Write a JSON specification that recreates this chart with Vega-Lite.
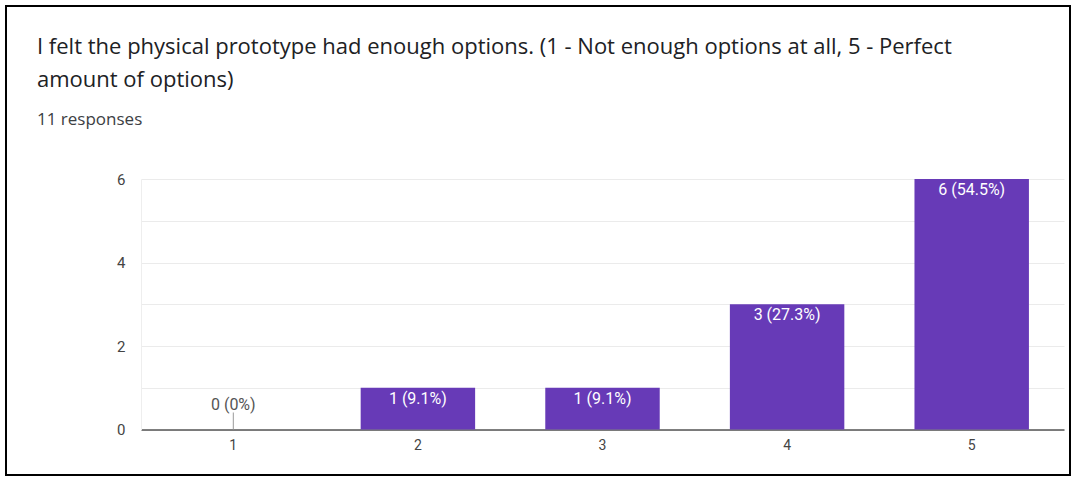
{
  "$schema": "https://vega.github.io/schema/vega-lite/v6.json",
  "width": 1064,
  "height": 469,
  "autosize": "none",
  "padding": {"left": 6, "top": 6, "right": 2, "bottom": 2},
  "background": "white",
  "config": {
    "view": {"stroke": "black", "strokeWidth": 2},
    "font": "Roboto"
  },
  "title": {
    "text": ["I felt the physical prototype had enough options. (1 - Not enough options at all, 5 - Perfect", "amount of options)"],
    "subtitle": "11 responses",
    "anchor": "start",
    "frame": "group",
    "dx": 31,
    "offset": -123,
    "font": "Open Sans",
    "fontSize": 22,
    "fontWeight": "normal",
    "color": "#202124",
    "lineHeight": 33,
    "subtitleFont": "Open Sans",
    "subtitleFontSize": 17,
    "subtitleColor": "#3c4043",
    "subtitlePadding": 20
  },
  "data": {
    "values": [
      {"option": "1", "count": 0, "label": "0 (0%)"},
      {"option": "2", "count": 1, "label": "1 (9.1%)"},
      {"option": "3", "count": 1, "label": "1 (9.1%)"},
      {"option": "4", "count": 3, "label": "3 (27.3%)"},
      {"option": "5", "count": 6, "label": "6 (54.5%)"}
    ]
  },
  "encoding": {
    "x": {
      "field": "option",
      "type": "ordinal",
      "scale": {"range": [135, 1058], "paddingInner": 0.38, "paddingOuter": 0.19},
      "axis": {
        "title": null,
        "orient": "bottom",
        "offset": -45.5,
        "labelAngle": 0,
        "ticks": false,
        "domainColor": "#555555",
        "domainWidth": 1.5,
        "labelColor": "#444444",
        "labelFontSize": 14,
        "labelPadding": 9,
        "grid": false
      }
    },
    "y": {
      "field": "count",
      "type": "quantitative",
      "scale": {"domain": [0, 6], "range": [423.5, 173], "nice": false},
      "axis": {
        "title": null,
        "orient": "left",
        "offset": -135,
        "values": [0, 1, 2, 3, 4, 5, 6],
        "labelExpr": "datum.value % 2 === 0 ? datum.label : ''",
        "ticks": false,
        "domainColor": "#eeeeee",
        "grid": true,
        "gridColor": "#ebebeb",
        "labelColor": "#444444",
        "labelFontSize": 15,
        "labelPadding": 16
      }
    }
  },
  "layer": [
    {
      "mark": {"type": "bar", "color": "#673ab7"}
    },
    {
      "transform": [{"filter": "datum.count > 0"}],
      "mark": {"type": "text", "color": "white", "fontSize": 16, "baseline": "middle", "dy": 11},
      "encoding": {"text": {"field": "label"}}
    },
    {
      "transform": [{"filter": "datum.count === 0"}],
      "mark": {"type": "text", "color": "#555555", "fontSize": 16, "baseline": "middle", "dy": -25},
      "encoding": {"text": {"field": "label"}}
    },
    {
      "transform": [{"filter": "datum.count === 0"}],
      "mark": {"type": "rule", "color": "#999999", "strokeWidth": 1, "y2Offset": -17},
      "encoding": {"y2": {"field": "count"}}
    }
  ]
}
